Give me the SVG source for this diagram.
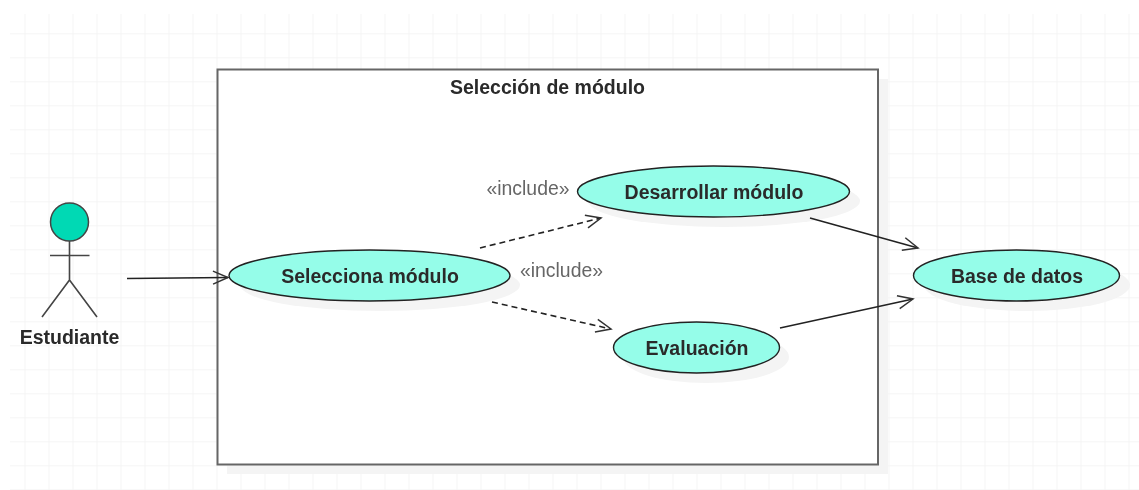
<svg xmlns="http://www.w3.org/2000/svg" width="1139" height="490" viewBox="0 0 1139 490">
<defs>
<pattern id="grid" x="1.5" y="10.3" width="24" height="24" patternUnits="userSpaceOnUse"><path d="M24 0V24M0 24H24" fill="none" stroke="#f5f5f5" stroke-width="2"/></pattern>
<marker id="open" markerUnits="userSpaceOnUse" markerWidth="20" markerHeight="20" refX="17" refY="10" orient="auto"><path d="M2 3.500L17 10L2 16.500" fill="none" stroke="#333" stroke-width="1.500"/></marker>
<filter id="soft" x="0" y="0" width="100%" height="100%"><feGaussianBlur stdDeviation="0.35"/></filter>
</defs>
<style>
.uc{fill:#95fde9;stroke:#222;stroke-width:1.400}
.sh{fill:#f4f4f4}
.t{font-family:"Liberation Sans",Arial,sans-serif;font-weight:bold;font-size:19.500px;fill:#2a2a2a;text-anchor:middle}
.inc{font-family:"Liberation Sans",Arial,sans-serif;font-size:19.400px;fill:#666;text-anchor:middle}
.c{fill:none;stroke:#222;stroke-width:1.600;marker-end:url(#open)}
.d{stroke-dasharray:6 4}
.a{fill:none;stroke:#444;stroke-width:1.600}
</style>
<rect width="1139" height="490" fill="#fff"/>
<g filter="url(#soft)">
<rect x="10" y="14" width="1129" height="476" fill="url(#grid)"/>
<g id="system">
<rect x="227" y="79" width="661" height="395" fill="#f4f4f4"/>
<rect x="217.500" y="69.500" width="660.500" height="395" fill="#fff" stroke="#666" stroke-width="2"/>
<text class="t" x="547.500" y="94">Selección de módulo</text>
</g>
<g id="actor">
<circle cx="69.500" cy="222" r="19" fill="#00d9b4" stroke="#444" stroke-width="1.500"/>
<path class="a" d="M69.500 241V280M50 255.500H89.500M69.500 280L42 317M69.500 280L97 317"/>
<text class="t" x="69.500" y="344">Estudiante</text>
</g>
<g id="selecciona">
<ellipse class="sh" cx="380" cy="285" rx="140" ry="26"/>
<ellipse class="uc" cx="369.500" cy="275.500" rx="140.500" ry="25.500"/>
<text class="t" x="370" y="283">Selecciona módulo</text>
</g>
<g id="desarrollar">
<ellipse class="sh" cx="724" cy="201" rx="136" ry="26"/>
<ellipse class="uc" cx="713.500" cy="191.500" rx="136" ry="25.500"/>
<text class="t" x="714" y="199">Desarrollar módulo</text>
</g>
<g id="evaluacion">
<ellipse class="sh" cx="706" cy="357" rx="83" ry="26"/>
<ellipse class="uc" cx="696.500" cy="347.500" rx="83" ry="25.500"/>
<text class="t" x="697" y="355">Evaluación</text>
</g>
<g id="base">
<ellipse class="sh" cx="1027" cy="285" rx="103" ry="26"/>
<ellipse class="uc" cx="1016.500" cy="275.500" rx="103" ry="25.500"/>
<text class="t" x="1017" y="283">Base de datos</text>
</g>
<g id="connectors">
<path class="c" d="M127 278.500L228 277.500"/>
<path class="c d" d="M480 248L601 218"/>
<path class="c d" d="M492 302L611 329"/>
<path class="c" d="M810 218L918 248"/>
<path class="c" d="M780 328L913 299"/>
</g>
<text class="inc" x="528" y="195">«include»</text>
<text class="inc" x="561.500" y="277">«include»</text>
</g>
</svg>
